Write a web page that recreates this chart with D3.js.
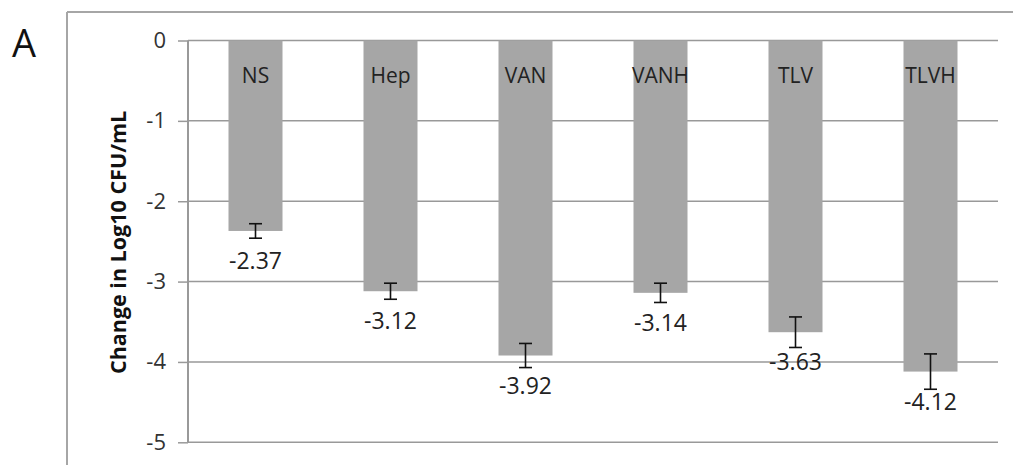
<!DOCTYPE html>
<html>
<head>
<meta charset="utf-8">
<script src="https://cdn.jsdelivr.net/npm/d3@7"></script>
<style>
  html, body { margin: 0; padding: 0; background: #fff; }
  svg { display: block; font-family: "Open Sans", sans-serif; }
</style>
</head>
<body>
<svg id="chart" width="1013" height="465"></svg>
<script>
const categories = ["NS", "Hep", "VAN", "VANH", "TLV", "TLVH"];
const values = [-2.37, -3.12, -3.92, -3.14, -3.63, -4.12];
const errors = [0.09, 0.10, 0.15, 0.12, 0.19, 0.22];
const valueLabels = ["-2.37", "-3.12", "-3.92", "-3.14", "-3.63", "-4.12"];
const yTicks = [0, -1, -2, -3, -4, -5];
const yTickLabels = ["0", "-1", "-2", "-3", "-4", "-5"];
const yTitle = "Change in Log10 CFU/mL";
const panelLabel = "A";

const svg = d3.select("#chart");
const plotLeft = 188, plotRight = 998, plotTop = 40.5, plotBottom = 442.3;

const x = d3.scaleBand().domain(categories).range([plotLeft, plotRight]).paddingInner(0.6).paddingOuter(0.3);
const y = d3.scaleLinear().domain([-5, 0]).range([plotBottom, plotTop]);

// outer frame
svg.append("line").attr("x1", 67).attr("x2", 1013).attr("y1", 12).attr("y2", 12)
  .attr("stroke", "#a6a6a6").attr("stroke-width", 2);
svg.append("line").attr("x1", 67).attr("x2", 67).attr("y1", 12).attr("y2", 465)
  .attr("stroke", "#a6a6a6").attr("stroke-width", 2);

// panel label
svg.append("text").attr("x", 12).attr("y", 57).attr("font-size", 38).attr("fill", "#111")
  .text(panelLabel);

// gridlines
svg.append("g").selectAll("line").data(yTicks).join("line")
  .attr("x1", plotLeft).attr("x2", plotRight)
  .attr("y1", d => y(d)).attr("y2", d => y(d))
  .attr("stroke", "#999").attr("stroke-width", 1.5);

// y axis
const yAxis = d3.axisLeft(y).tickValues(yTicks).tickSize(10).tickPadding(12)
  .tickFormat((d, i) => yTickLabels[i]);
const gAxis = svg.append("g").attr("transform", `translate(${plotLeft},0)`).call(yAxis);
gAxis.select(".domain").attr("stroke", "#999").attr("stroke-width", 2).attr("d", `M0,${plotTop}V${plotBottom}`);
gAxis.selectAll(".tick line").attr("stroke", "#999").attr("stroke-width", 1.5);
gAxis.selectAll(".tick text").attr("font-size", 22).attr("fill", "#333")
  .attr("font-family", "Open Sans, sans-serif");

// bars
const data = categories.map((c, i) => ({ c, v: values[i], e: errors[i], l: valueLabels[i] }));
svg.append("g").selectAll("rect").data(data).join("rect")
  .attr("x", d => x(d.c)).attr("width", x.bandwidth())
  .attr("y", y(0)).attr("height", d => y(d.v) - y(0))
  .attr("fill", "#a6a6a6");

// error bars
const eg = svg.append("g").attr("stroke", "#111").attr("stroke-width", 1.6);
data.forEach(d => {
  const cx = x(d.c) + x.bandwidth() / 2;
  eg.append("line").attr("x1", cx).attr("x2", cx).attr("y1", y(d.v + d.e)).attr("y2", y(d.v - d.e));
  eg.append("line").attr("x1", cx - 6.5).attr("x2", cx + 6.5).attr("y1", y(d.v + d.e)).attr("y2", y(d.v + d.e));
  eg.append("line").attr("x1", cx - 6.5).attr("x2", cx + 6.5).attr("y1", y(d.v - d.e)).attr("y2", y(d.v - d.e));
});

// category labels inside bars
svg.append("g").selectAll("text").data(data).join("text")
  .attr("x", d => x(d.c) + x.bandwidth() / 2).attr("y", y(0) + 42.5)
  .attr("text-anchor", "middle").attr("font-size", 21).attr("fill", "#222")
  .text(d => d.c);

// value labels
svg.append("g").selectAll("text").data(data).join("text")
  .attr("x", d => x(d.c) + x.bandwidth() / 2).attr("y", d => y(d.v) + 38)
  .attr("text-anchor", "middle").attr("font-size", 23).attr("fill", "#222")
  .text(d => d.l);

// y title
svg.append("text").attr("transform", `translate(126,${(plotTop + plotBottom) / 2 + 1}) rotate(-90)`)
  .attr("text-anchor", "middle").attr("font-size", 21.5).attr("font-weight", "bold").attr("fill", "#111")
  .text(yTitle);
</script>
</body>
</html>
